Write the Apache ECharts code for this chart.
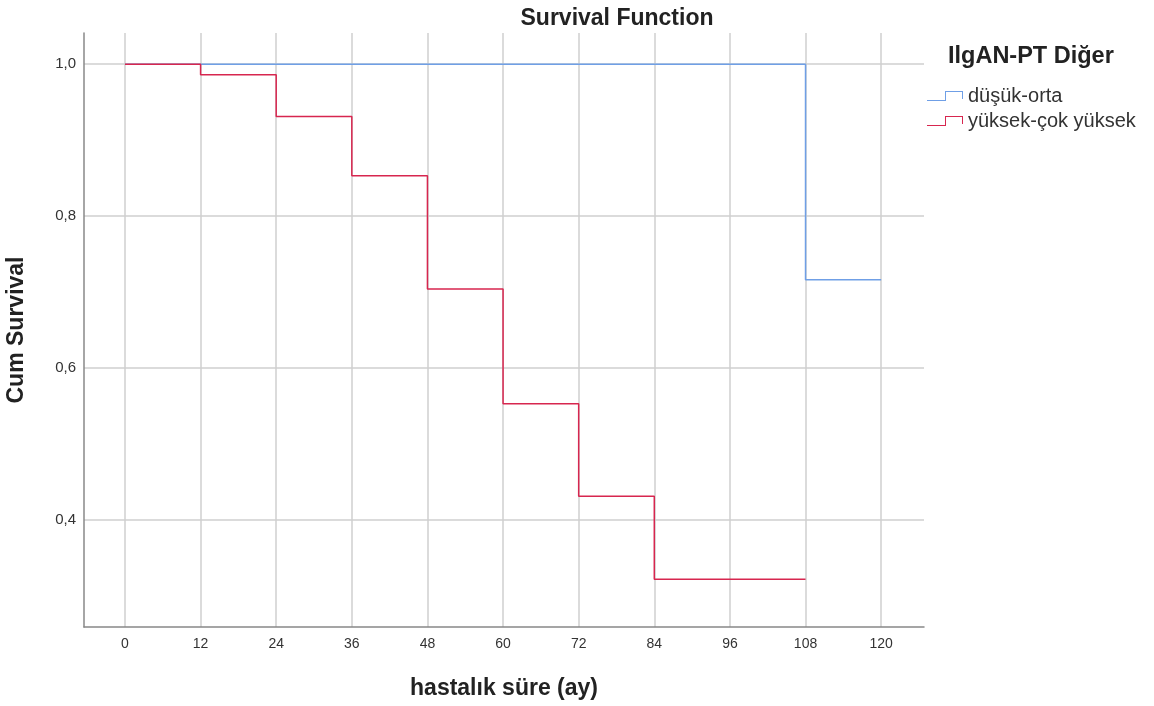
<!DOCTYPE html>
<html>
<head>
<meta charset="utf-8">
<script src="https://cdn.jsdelivr.net/npm/echarts@6/dist/echarts.min.js"></script>
<style>html,body{margin:0;padding:0;background:#fff}#c{width:1154px;height:706px}</style>
</head>
<body>
<div id="c"></div>
<script>
const xTicks = [0, 12, 24, 36, 48, 60, 72, 84, 96, 108, 120];
const yTicks = [0.4, 0.6, 0.8, 1.0];
const lowMidTimes = [0, 108, 120];
const lowMidSurv = [1.0, 0.716, 0.716];
const highTimes = [0, 12, 24, 36, 48, 60, 72, 84, 108];
const highSurv = [1.0, 0.986, 0.931, 0.853, 0.704, 0.553, 0.431, 0.322, 0.322];
const seriesNames = ['düşük-orta', 'yüksek-çok yüksek'];

const chart = echarts.init(document.getElementById('c'));
const font = 'Liberation Sans, Arial, sans-serif';
const stepIcon = 'path://M0,9 L18,9 L18,0 L36,0 L36,8 L35,8 L35,1 L19,1 L19,10 L0,10 Z';
chart.setOption({
  animation: false,
  backgroundColor: '#fff',
  title: {
    text: 'Survival Function',
    left: 612, top: 2, textAlign: 'center',
    textStyle: { fontFamily: font, fontSize: 23, fontWeight: 'bold', color: '#222' }
  },
  graphic: [{
    type: 'text', left: 948, top: 45,
    style: { text: 'IlgAN-PT Diğer', font: 'bold 23.5px ' + font, fill: '#222' }
  }],
  legend: {
    orient: 'vertical', left: 922, top: 81, itemGap: 5,
    itemWidth: 36, itemHeight: 10,
    icon: stepIcon,
    textStyle: { fontFamily: font, fontSize: 20, color: '#333' },
    data: seriesNames
  },
  grid: { left: 84, right: 230, top: 33, bottom: 79, outerBoundsMode: 'none', containLabel: false },
  xAxis: {
    type: 'value', min: -6.5, max: 126.8,
    name: 'hastalık süre (ay)', nameLocation: 'middle', nameGap: 50,
    nameTextStyle: { fontFamily: font, fontSize: 23, fontWeight: 'bold', color: '#222' },
    axisLine: { show: true, onZero: false, lineStyle: { color: '#888', width: 1.5 } },
    axisTick: { show: false, customValues: xTicks },
    axisLabel: { customValues: xTicks, fontFamily: font, fontSize: 14, color: '#333', margin: 10 },
    splitLine: { show: true, lineStyle: { color: '#cfcfcf', width: 1.5 } }
  },
  yAxis: {
    type: 'value', min: 0.259, max: 1.041,
    name: 'Cum Survival', nameLocation: 'middle', nameGap: 56, nameRotate: 90,
    nameTextStyle: { fontFamily: font, fontSize: 23, fontWeight: 'bold', color: '#222' },
    axisLine: { show: true, onZero: false, lineStyle: { color: '#888', width: 1.5 } },
    axisTick: { show: false, customValues: yTicks },
    axisLabel: { customValues: yTicks, fontFamily: font, fontSize: 15, color: '#333', margin: 8,
      formatter: v => v.toFixed(1).replace('.', ',') },
    splitLine: { show: true, lineStyle: { color: '#cfcfcf', width: 1.5 } }
  },
  series: [
    {
      name: seriesNames[0], type: 'line', step: 'end', symbol: 'none',
      lineStyle: { color: '#6f9fe6', width: 1.5 }, itemStyle: { color: '#6f9fe6' },
      data: lowMidTimes.map((t, i) => [t, lowMidSurv[i]]), z: 3
    },
    {
      name: seriesNames[1], type: 'line', step: 'end', symbol: 'none',
      lineStyle: { color: '#d7264f', width: 1.5 }, itemStyle: { color: '#d7264f' },
      data: highTimes.map((t, i) => [t, highSurv[i]]), z: 4
    }
  ]
});
</script>
</body>
</html>
